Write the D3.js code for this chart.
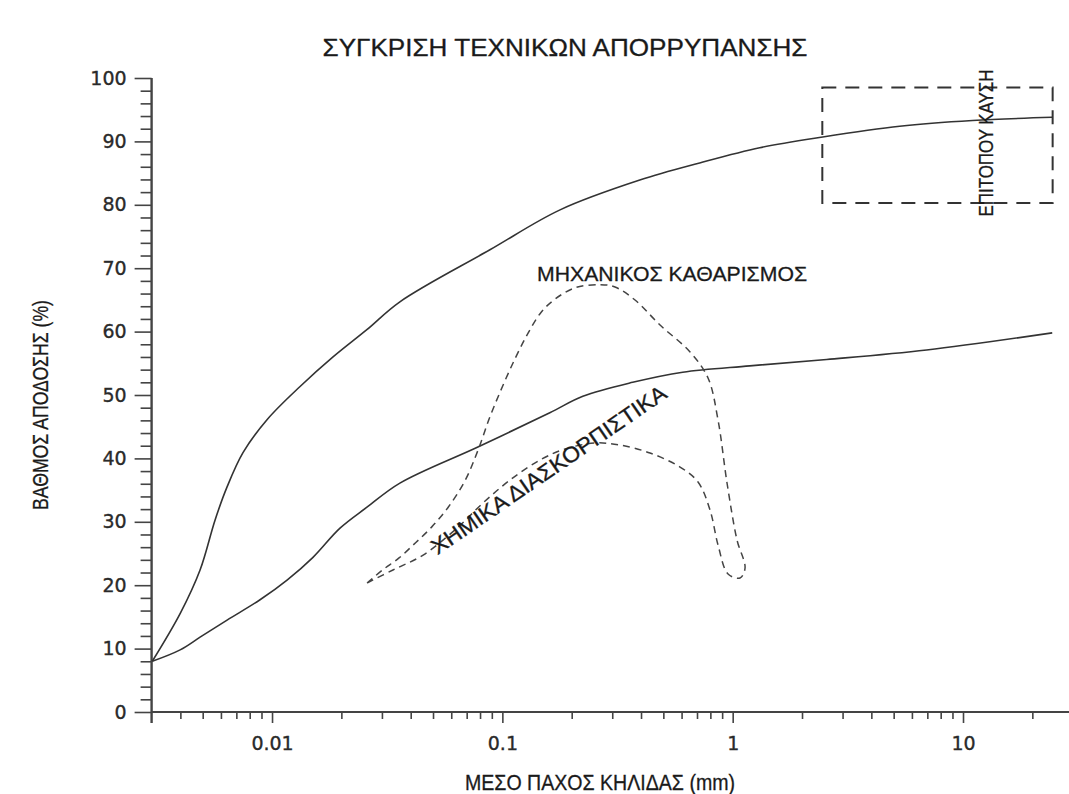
<!DOCTYPE html>
<html>
<head>
<meta charset="utf-8">
<script src="https://cdn.jsdelivr.net/npm/d3@7.9.0/dist/d3.min.js"></script>
<style>
  html, body { margin: 0; padding: 0; background: #fff; }
  svg { display: block; }
  .tick text { font-family: "DejaVu Sans", sans-serif; font-size: 19px; fill: #2a2a2a; stroke: #2a2a2a; stroke-width: 0.35px; }
  .tick line { stroke: #444; stroke-width: 1.6; }
  .lbl { font-family: "Liberation Sans", Arial, sans-serif; fill: #1a1a1a; stroke: #1a1a1a; stroke-width: 0.3px; }
</style>
</head>
<body>
<div id="chart"></div>
<script>
// band of mechanical cleaning: upper and lower solid curves
const upperX = [0.00302, 0.004, 0.00487, 0.00566, 0.00638, 0.00748, 0.00951, 0.0132, 0.0184, 0.0258, 0.0359, 0.0883, 0.178, 0.395, 0.719, 1.31, 2.46, 5.31, 11.0, 24.4];
const upperY = [8, 15.6, 22.4, 30.3, 35.5, 40.9, 46.1, 51.3, 56.0, 60.3, 64.7, 72.9, 79.2, 83.9, 86.6, 89.0, 90.7, 92.4, 93.3, 93.8];

const lowerX = [0.00302, 0.00399, 0.00487, 0.00638, 0.00887, 0.01162, 0.01506, 0.01973, 0.02583, 0.0359, 0.0783, 0.1607, 0.2236, 0.368, 0.6067, 1.186, 2.56, 6.95, 24.4];
const lowerY = [8, 9.8, 11.8, 14.5, 17.7, 20.8, 24.4, 29.0, 32.3, 36.1, 41.8, 47.2, 49.8, 52.0, 53.6, 54.6, 55.6, 57.1, 59.8];

// chemical dispersants: dashed loop (outer branch, then back along the inner branch)
const chemX = [0.02585, 0.0302, 0.0356, 0.0420, 0.0494, 0.0582, 0.0691, 0.0784, 0.0880, 0.1000, 0.1141, 0.1295, 0.1477, 0.1690, 0.2064, 0.2650, 0.3085, 0.3767, 0.4837, 0.653, 0.7815, 0.8637, 0.945, 1.0443, 1.1315, 1.0762, 0.9546, 0.8637, 0.7973, 0.7071, 0.5908, 0.4377, 0.3243, 0.2526, 0.1871, 0.1457, 0.108, 0.0824, 0.0636, 0.0453, 0.0335, 0.02585];
const chemY = [20.35, 22.4, 24.3, 26.7, 29.2, 32.3, 36.6, 41.3, 46.4, 51.3, 55.9, 59.8, 63.1, 65.1, 66.9, 67.4, 67.03, 64.98, 61.04, 56.78, 52.68, 46.06, 36.12, 27.13, 22.71, 21.14, 21.77, 26.34, 31.86, 36.28, 38.64, 40.85, 42.11, 42.43, 41.48, 39.75, 36.59, 32.97, 29.02, 24.76, 22.4, 20.35];

// in-situ burning region (dashed box corners)
const burnX = [2.45, 24.5];
const burnY = [80.3, 98.5];

const xMajor = [0.01, 0.1, 1, 10];
const xMajorLabels = ["0.01", "0.1", "1", "10"];
const yMajor = [0, 10, 20, 30, 40, 50, 60, 70, 80, 90, 100];
const yMinor = d3.range(0, 101, 2).filter(v => v % 10 !== 0);

const title = "ΣΥΓΚΡΙΣΗ ΤΕΧΝΙΚΩΝ ΑΠΟΡΡΥΠΑΝΣΗΣ";
const xTitle = "ΜΕΣΟ ΠΑΧΟΣ ΚΗΛΙΔΑΣ (mm)";
const yTitle = "ΒΑΘΜΟΣ ΑΠΟΔΟΣΗΣ (%)";

const width = 1069, height = 794;

const svg = d3.select("#chart").append("svg")
  .attr("width", width)
  .attr("height", height);

svg.append("rect").attr("width", width).attr("height", height).attr("fill", "#fff");

const x = d3.scaleLog().domain([0.003, 30]).range([151.6, 1072.9]);
const y = d3.scaleLinear().domain([0, 100]).range([712, 78]);

// y axis
svg.append("g")
  .attr("transform", `translate(${x(0.003)},0)`)
  .call(d3.axisLeft(y).tickValues(yMinor).tickSize(11).tickFormat(""))
  .call(g => g.select(".domain").remove());

svg.append("g")
  .attr("transform", `translate(${x(0.003)},0)`)
  .call(d3.axisLeft(y).tickValues(yMajor).tickSize(17).tickPadding(8).tickFormat(d3.format("d")))
  .call(g => g.select(".domain").remove());

// x axis
const xMinor = x.ticks().filter(v => !xMajor.includes(v) && v > 0.0031 && v < 30);

svg.append("g")
  .attr("transform", `translate(0,${y(0)})`)
  .call(d3.axisBottom(x).tickValues(xMinor).tickSize(7).tickFormat(""))
  .call(g => g.select(".domain").remove());

svg.append("g")
  .attr("transform", `translate(0,${y(0)})`)
  .call(d3.axisBottom(x).tickValues(xMajor).tickSize(11).tickPadding(14)
    .tickFormat((d, i) => xMajorLabels[i]))
  .call(g => g.select(".domain").remove());

// axis lines
svg.append("line")
  .attr("x1", x(0.003)).attr("x2", x(0.003))
  .attr("y1", y(100)).attr("y2", y(0) + 11)
  .attr("stroke", "#444").attr("stroke-width", 2.4);

svg.append("line")
  .attr("x1", x(0.003)).attr("x2", width)
  .attr("y1", y(0)).attr("y2", y(0))
  .attr("stroke", "#444").attr("stroke-width", 2.2);

// curves
const smooth = d3.line()
  .x(d => x(d[0]))
  .y(d => y(d[1]))
  .curve(d3.curveCatmullRom.alpha(0.5));

svg.append("path")
  .datum(d3.zip(upperX, upperY))
  .attr("d", smooth)
  .attr("fill", "none")
  .attr("stroke", "#333")
  .attr("stroke-width", 1.6);

svg.append("path")
  .datum(d3.zip(lowerX, lowerY))
  .attr("d", smooth)
  .attr("fill", "none")
  .attr("stroke", "#333")
  .attr("stroke-width", 1.6);

svg.append("path")
  .datum(d3.zip(chemX, chemY))
  .attr("d", smooth)
  .attr("fill", "none")
  .attr("stroke", "#444")
  .attr("stroke-width", 1.5)
  .attr("stroke-dasharray", "7,5");

// in-situ burning box
svg.append("rect")
  .attr("x", x(burnX[0]))
  .attr("y", y(burnY[1]))
  .attr("width", x(burnX[1]) - x(burnX[0]))
  .attr("height", y(burnY[0]) - y(burnY[1]))
  .attr("fill", "none")
  .attr("stroke", "#333")
  .attr("stroke-width", 2)
  .attr("stroke-dasharray", "14,9");

// texts
svg.append("text")
  .attr("class", "lbl")
  .attr("x", 565).attr("y", 56)
  .attr("text-anchor", "middle")
  .attr("font-size", 24)
  .attr("textLength", 485).attr("lengthAdjust", "spacingAndGlyphs")
  .text(title);

svg.append("text")
  .attr("class", "lbl")
  .attr("x", 600).attr("y", 790)
  .attr("text-anchor", "middle")
  .attr("font-size", 22)
  .attr("textLength", 270).attr("lengthAdjust", "spacingAndGlyphs")
  .text(xTitle);

svg.append("text")
  .attr("class", "lbl")
  .attr("transform", "translate(48,405) rotate(-90)")
  .attr("text-anchor", "middle")
  .attr("font-size", 22)
  .attr("textLength", 210).attr("lengthAdjust", "spacingAndGlyphs")
  .text(yTitle);

svg.append("text")
  .attr("class", "lbl")
  .attr("x", 672).attr("y", 281)
  .attr("text-anchor", "middle")
  .attr("font-size", 21)
  .attr("textLength", 270).attr("lengthAdjust", "spacingAndGlyphs")
  .text("ΜΗΧΑΝΙΚΟΣ ΚΑΘΑΡΙΣΜΟΣ");

svg.append("text")
  .attr("class", "lbl")
  .attr("transform", "translate(553,476) rotate(-34.5)")
  .attr("text-anchor", "middle")
  .attr("font-size", 22)
  .attr("textLength", 280).attr("lengthAdjust", "spacingAndGlyphs")
  .text("ΧΗΜΙΚΑ ΔΙΑΣΚΟΡΠΙΣΤΙΚΑ");

svg.append("text")
  .attr("class", "lbl")
  .attr("transform", "translate(993,143) rotate(-90)")
  .attr("text-anchor", "middle")
  .attr("font-size", 20)
  .attr("textLength", 147).attr("lengthAdjust", "spacingAndGlyphs")
  .text("ΕΠΙΤΟΠΟΥ ΚΑΥΣΗ");
</script>
</body>
</html>
